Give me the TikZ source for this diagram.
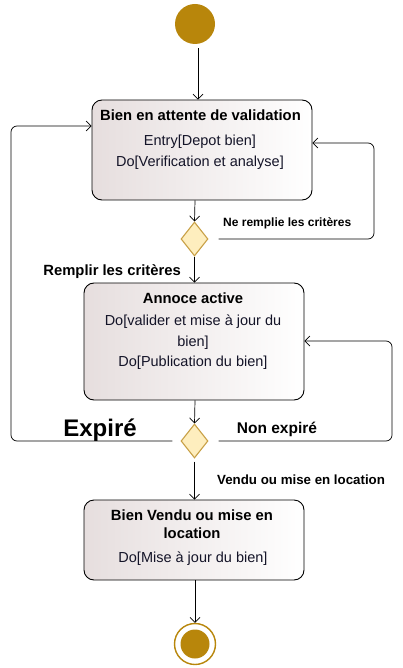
\documentclass[tikz,border=0pt]{standalone}
\usepackage{fontspec}
\setmainfont{Liberation Sans}
\usetikzlibrary{shapes.geometric,arrows.meta}
\definecolor{gold}{RGB}{184,134,11}
\definecolor{dfill}{RGB}{254,238,190}
\definecolor{dline}{RGB}{200,160,70}
\definecolor{bleft}{RGB}{230,222,222}
\definecolor{btext}{RGB}{20,20,40}
\tikzset{
  statebox/.style={draw=black, line width=0.9pt, rounded corners=10pt, left color=bleft, right color=white, inner sep=0pt},
  choice/.style={diamond, draw=dline, fill=dfill, line width=1.1pt, minimum width=27pt, minimum height=34pt, inner sep=0pt},
  arr/.style={draw=black, line width=0.7pt, -{Straight Barb[length=5pt,width=10pt]}},
  loop/.style={arr, rounded corners=6pt},
  ttl/.style={font=\fontsize{14.8}{17}\selectfont\bfseries, text=black, inner sep=0pt},
  body/.style={font=\fontsize{14.5}{21}\selectfont, text=btext, inner sep=0pt, align=center},
  lbl/.style={font=\fontsize{12}{14}\selectfont\bfseries, inner sep=0pt}
}
\begin{document}
\begin{tikzpicture}[x=1pt,y=-1pt]
\useasboundingbox (0,0) rectangle (402,668);
% initial
\node[circle, fill=gold, minimum size=40pt, inner sep=0pt] (init) at (195,24) {};
% box 1
\node[statebox, minimum width=220pt, minimum height=100pt] (b1) at (202,150) {};
\node[ttl] (t1) at (200.5,115) {Bien en attente de validation};
\node[body] (e1) at (200,142) {Entry[Depot bien]};
\node[body] (d1t) at (200,163) {Do[Verification et analyse]};
% diamond 1
\node[choice] (d1) at (194.5,239) {};
% box 2
\node[statebox, minimum width=220pt, minimum height=117pt] (b2) at (194,341.5) {};
\node[ttl] (t2) at (193,298) {Annoce active};
\node[body] (a2) at (193,332) {Do[valider et mise à jour du\\bien]};
\node[body] (p2) at (193,363) {Do[Publication du bien]};
% diamond 2
\node[choice] (d2) at (194.5,441) {};
% box 3
\node[statebox, minimum width=220pt, minimum height=80pt] (b3) at (194,540) {};
\node[ttl, align=center, font=\fontsize{14.8}{18}\selectfont\bfseries] (t3) at (192,524) {Bien Vendu ou mise en\\location};
\node[body] (m3) at (193,559) {Do[Mise à jour du bien]};
% final
\node[circle, draw=gold, fill=white, line width=1.4pt, minimum size=41pt, inner sep=0pt] (fin) at (195,644) {};
\node[circle, fill=gold, minimum size=29pt, inner sep=0pt] (finin) at (195,644) {};
% labels
\node[lbl, anchor=west] (l1) at (223,223) {Ne remplie les critères};
\node[lbl, anchor=east, font=\fontsize{14.8}{16}\selectfont\bfseries] (l2) at (181,272) {Remplir les critères};
\node[font=\fontsize{24}{28}\selectfont\bfseries, inner sep=0pt] (l3) at (100,430) {Expiré};
\node[font=\fontsize{15.5}{18}\selectfont\bfseries, inner sep=0pt] (l4) at (277,429) {Non expiré};
\node[lbl, anchor=west, font=\fontsize{13.3}{15}\selectfont\bfseries] (l5) at (217,480) {Vendu ou mise en location};
% connectors
\draw[arr, shorten <=4pt] (init.south -| 198,0) -- (b1.north -| 198,0);
\draw[arr] (b1.south -| 195,0) -- (d1.north);
\draw[loop, shorten <=10pt] (d1.east) -- (374,239) -- (374,143) -- (b1.east |- 0,143);
\draw[arr] (d1.south) -- (b2.north -| d1.south);
\draw[arr] (b2.south -| 195,0) -- (d2.north);
\draw[loop, shorten <=8pt] (d2.west) -- (11,441) -- (11,126) -- (b1.west |- 0,126);
\draw[loop, shorten <=10pt] (d2.east) -- (392,441) -- (392,341) -- (b2.east |- 0,341);
\draw[arr, shorten <=3pt] (d2.south) -- (b3.north -| d2.south);
\draw[arr] (b3.south -| 195,0) -- (fin.north);
\end{tikzpicture}
\end{document}
